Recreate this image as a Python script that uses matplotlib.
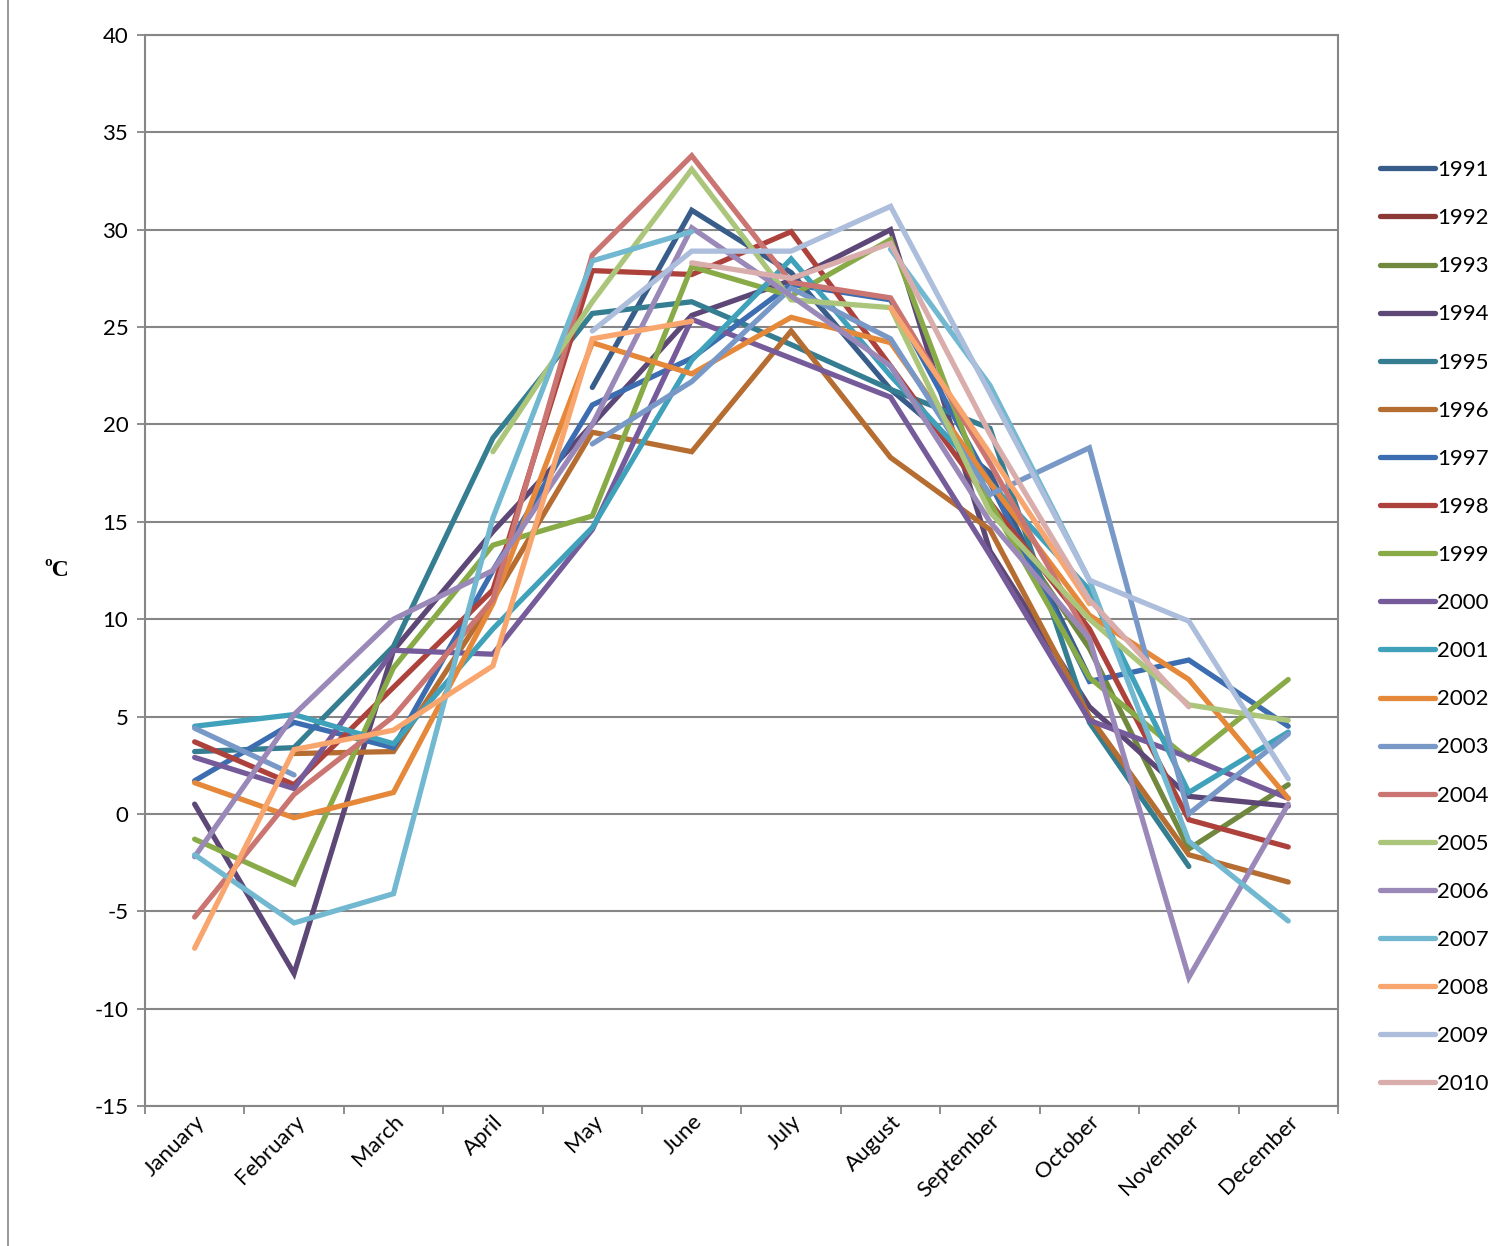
import matplotlib.pyplot as plt
import numpy as np
from matplotlib.patches import Rectangle

plt.rcParams["axes.unicode_minus"] = False

N = None

months = ["January", "February", "March", "April", "May", "June", "July",
          "August", "September", "October", "November", "December"]
years = [str(y) for y in range(1991, 2011)]

t1991 = [N, N, N, N, 21.9, 31.0, 27.8, 21.8, 17.5, 7.0, N, N]
t1992 = [N, N, N, N, N, N, N, N, N, N, N, N]
t1993 = [N, N, N, N, N, N, N, N, 16.0, 8.5, -1.8, 1.5]
t1994 = [0.5, -8.2, 8.4, 14.5, 20.0, 25.6, 27.4, 30.0, 13.5, 5.5, 0.9, 0.4]
t1995 = [3.2, 3.4, 8.6, 19.3, 25.7, 26.3, 24.1, 21.8, 19.8, 4.7, -2.7, N]
t1996 = [N, 3.1, 3.2, 11.0, 19.6, 18.6, 24.8, 18.3, 14.6, 5.0, -2.1, -3.5]
t1997 = [1.7, 4.7, 3.4, 12.5, 21.0, 23.4, 27.2, 26.4, 17.0, 6.8, 7.9, 4.5]
t1998 = [3.7, 1.5, 6.5, 11.5, 27.9, 27.7, 29.9, 23.0, 16.0, 9.5, -0.3, -1.7]
t1999 = [-1.3, -3.6, 7.5, 13.8, 15.3, 28.1, 26.6, 29.5, 16.0, 7.0, 2.8, 6.9]
t2000 = [2.9, 1.3, 8.4, 8.2, 14.6, 25.4, 23.4, 21.4, 13.3, 4.8, 2.9, 0.8]
t2001 = [4.5, 5.1, 3.6, 9.5, 14.7, 23.3, 28.5, 22.5, 17.0, 11.5, 1.1, 4.2]
t2002 = [1.6, -0.2, 1.1, 10.8, 24.2, 22.6, 25.5, 24.2, 17.0, 10.2, 6.9, 0.8]
t2003 = [4.4, 2.0, N, N, 19.0, 22.2, 27.0, 24.4, 16.4, 18.8, 0.0, 4.1]
t2004 = [-5.3, 1.0, 5.0, 11.0, 28.7, 33.8, 27.3, 26.5, 18.0, 9.0, N, N]
t2005 = [N, N, N, 18.6, 26.3, 33.1, 26.4, 26.0, 15.5, 10.0, 5.6, 4.8]
t2006 = [-2.2, 5.1, 10.0, 12.5, 20.0, 30.1, 26.6, 23.0, 15.0, 9.0, -8.4, 0.5]
t2007 = [-2.1, -5.6, -4.1, 15.2, 28.4, 29.9, N, 29.0, 22.0, 12.0, -1.4, -5.5]
t2008 = [-6.9, 3.3, 4.3, 7.6, 24.4, 25.3, N, 26.0, 18.5, 10.8, N, N]
t2009 = [N, N, N, N, 24.8, 28.9, 28.9, 31.2, 21.6, 12.0, 9.9, 1.8]
t2010 = [N, N, N, N, N, 28.3, 27.5, 29.3, 19.5, 11.0, 5.5, N]

series = [t1991, t1992, t1993, t1994, t1995, t1996, t1997, t1998, t1999, t2000,
          t2001, t2002, t2003, t2004, t2005, t2006, t2007, t2008, t2009, t2010]

colors = ["#385D8A", "#8C3836", "#71893F", "#5C4776", "#357D91",
          "#B66D31", "#3C6DB0", "#AD423D", "#88AB48", "#755B9A",
          "#3FA1BA", "#E5883A", "#7899C8", "#CB7572", "#ABC67A",
          "#9A89B8", "#72B8D0", "#F8A56E", "#ACBEDB", "#D9ADAC"]

font = "Lato"

fig = plt.figure(figsize=(15.05, 12.46), dpi=100)
ax = fig.add_axes([0.0963, 0.1124, 0.7927, 0.8595])

x = np.arange(12) + 0.5
for name, vals, c in zip(years, series, colors):
    y = np.array([np.nan if v is None else v for v in vals], dtype=float)
    ax.plot(x, y, color=c, lw=3.8, label=name, solid_capstyle="round",
            solid_joinstyle="miter")

ax.set_xlim(0, 12)
ax.set_ylim(-15, 40)
ax.set_yticks(np.arange(-15, 41, 5))
ax.set_xticks(np.arange(0, 13))
ax.set_xticklabels([])
ax.set_xticks(x, minor=True)
ax.set_xticklabels(months, minor=True, rotation=45, ha="right",
                   rotation_mode="anchor", fontsize=16, family=font)
ax.tick_params(axis="x", which="minor", length=0, pad=4)
ax.tick_params(axis="x", which="major", length=6, color="#868686", width=1.3,
               direction="out")
ax.tick_params(axis="y", length=6, color="#868686", width=1.3, direction="out",
               labelsize=16, pad=6)
for lab in ax.get_yticklabels():
    lab.set_family(font)

ax.grid(axis="y", color="#868686", lw=1.5)
ax.set_axisbelow(True)
for side in ["left", "bottom", "right", "top"]:
    ax.spines[side].set_color("#868686")
    ax.spines[side].set_linewidth(1.5)

fig.text(0.038, 0.542, "ºC", fontsize=17, fontweight="bold",
         family="Liberation Serif", ha="center", va="center")

fig.legend(loc="upper left", bbox_to_anchor=(0.917, 0.8715), frameon=False,
           handlelength=2.45, handletextpad=0.12, labelspacing=1.265,
           borderaxespad=0, borderpad=0, prop={"family": font, "size": 16})

fig.patches.append(Rectangle((0.005, -0.01), 1.0, 1.02, transform=fig.transFigure,
                             fill=False, ec="#868686", lw=1.2))

fig.savefig("out.png", dpi=100)
